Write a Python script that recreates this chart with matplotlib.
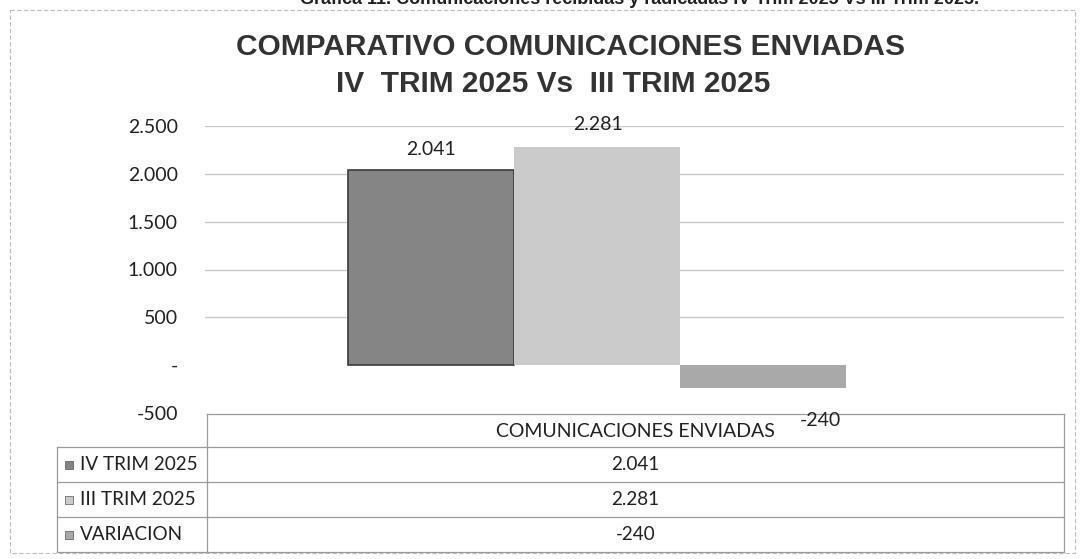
import matplotlib.pyplot as plt
from matplotlib.patches import Rectangle

# datos del grafico
series = ['IV TRIM 2025', 'III TRIM 2025', 'VARIACION']
valores = [2041, 2281, -240]
etiquetas = ['2.041', '2.281', '-240']
categoria = 'COMUNICACIONES ENVIADAS'
yticks = [-500, 0, 500, 1000, 1500, 2000, 2500]
ytick_labels = ['-500', '-', '500', '1.000', '1.500', '2.000', '2.500']
colores = ['#858585', '#cbcbcb', '#a9a9a9']

W, H = 1083, 559
fig = plt.figure(figsize=(W / 100, H / 100), dpi=100)
fig.patch.set_facecolor('white')

# capa en pixeles para textos, tabla y bordes
ov = fig.add_axes([0, 0, 1, 1], zorder=0)
ov.set_xlim(0, W)
ov.set_ylim(H, 0)
ov.axis('off')

# eje del grafico
ax = fig.add_axes([205 / W, 1 - 413 / H, 859 / W, 287 / H], zorder=2)
ax.patch.set_alpha(0)
posiciones = [-1, 0, 1]
barras = ax.bar(posiciones, valores, width=1, color=colores, zorder=3)
barras[0].set_edgecolor('#3a3a3a')
barras[0].set_linewidth(1.2)
ax.set_xlim(-2.361, 2.814)
ax.set_ylim(-500, 2500)
ax.set_yticks(yticks)
ax.set_yticklabels(ytick_labels, fontsize=14, family='Lato', color='#222222')
ax.set_xticks([])
ax.tick_params(axis='y', length=0, pad=19.5)
for s in ax.spines.values():
    s.set_visible(False)
for t in [500, 1000, 1500, 2000, 2500]:
    ax.axhline(t, color='#c8c8c8', lw=1, zorder=1)

# etiquetas de datos
offsets = [(0, 20), (1, 22), (57, -32)]
for b, v, lab, (dx, dy) in zip(barras, valores, etiquetas, offsets):
    ax.annotate(lab, (b.get_x() + b.get_width() / 2, v),
                xytext=(dx * 0.72, dy * 0.72), textcoords='offset points',
                ha='center', va='center', fontsize=14, family='Lato', color='#222222')

# titulo
ov.text(571, 47, 'COMPARATIVO COMUNICACIONES ENVIADAS', ha='center', va='center',
        fontsize=21.5, fontweight='bold', family='Liberation Sans', color='#333333')
ov.text(553, 84, 'IV  TRIM 2025 Vs  III TRIM 2025', ha='center', va='center',
        fontsize=21.5, fontweight='bold', family='Liberation Sans', color='#333333')

# pie superior cortado
ov.text(640, 4, 'Gráfica 11. Comunicaciones recibidas y radicadas IV Trim 2025 Vs III Trim 2025.',
        ha='center', va='baseline', fontsize=13, fontweight='bold',
        family='Liberation Sans', color='#222222')

# borde exterior
ov.add_patch(Rectangle((10, 10), 1065, 543, fill=False, ec='#bdbdbd', lw=0.8, ls=(0, (4, 2))))

# tabla de datos
lc = '#9a9a9a'
x0, x1, x2 = 57, 207, 1064
filas = [414, 447, 482, 517, 552]
ov.plot([x1, x2], [filas[0], filas[0]], color=lc, lw=0.9)
for y in filas[1:]:
    ov.plot([x0, x2], [y, y], color=lc, lw=0.9)
ov.plot([x1, x1], [filas[0], filas[-1]], color=lc, lw=0.9)
ov.plot([x2, x2], [filas[0], filas[-1]], color=lc, lw=0.9)
ov.plot([x0, x0], [filas[1], filas[-1]], color=lc, lw=0.9)
xc = (x1 + x2) / 2
ov.text(xc, (filas[0] + filas[1]) / 2 + 1, categoria, ha='center', va='center',
        fontsize=14, family='Lato', color='#222222')
for i, (nombre, lab, c) in enumerate(zip(series, etiquetas, colores)):
    ym = (filas[i + 1] + filas[i + 2]) / 2
    ov.add_patch(Rectangle((65, ym - 4), 8, 8, color=c, ec='#555555', lw=0.5))
    ov.text(80, ym, nombre, ha='left', va='center', fontsize=13.6, family='Lato', color='#222222')
    ov.text(xc, ym, lab, ha='center', va='center', fontsize=13.6, family='Lato', color='#222222')

fig.savefig('out.png', dpi=100)
